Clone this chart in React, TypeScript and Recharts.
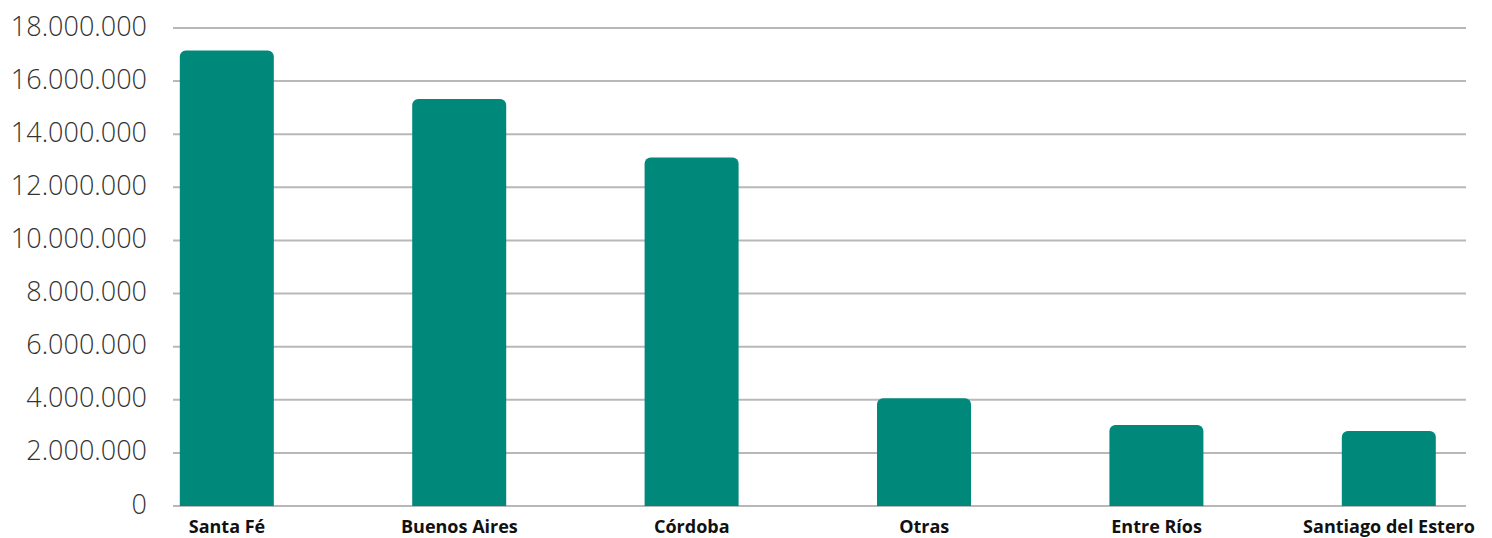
import React from "react";
import { BarChart, Bar, XAxis, YAxis, CartesianGrid } from "recharts";

// Provincias y valores
const provincias = [
  "Santa Fé",
  "Buenos Aires",
  "Córdoba",
  "Otras",
  "Entre Ríos",
  "Santiago del Estero",
];
const valores = [17150000, 15330000, 13120000, 4060000, 3050000, 2820000];
const yTicks = [
  0, 2000000, 4000000, 6000000, 8000000, 10000000, 12000000, 14000000,
  16000000, 18000000,
];

const data = provincias.map((name, i) => ({ idx: i, name, value: valores[i] }));

const fmt = (v: number) =>
  String(Math.round(v)).replace(/\B(?=(\d{3})+(?!\d))/g, ".");

const App: React.FC = () => {
  return (
    <div style={{ position: "absolute", left: 0, top: 0, background: "#fff" }}>
      <BarChart
        width={1492}
        height={538}
        data={data}
        margin={{ top: 28, right: 26, left: 0, bottom: 0 }}
      >
        <CartesianGrid vertical={false} stroke="#b8b8b8" strokeWidth={2} />
        <XAxis
          dataKey="idx"
          type="number"
          domain={[-0.2324, 5.3313]}
          ticks={[0, 1, 2, 3, 4, 5]}
          allowDataOverflow
          tickFormatter={(v: number) => provincias[v] ?? ""}
          axisLine={false}
          tickLine={false}
          tickMargin={8}
          interval={0}
          height={32}
          tick={{
            fontFamily: "'Open Sans', sans-serif",
            fontWeight: 700,
            fontSize: 18,
            fill: "#111",
          }}
        />
        <YAxis
          width={173}
          domain={[0, 18000000]}
          ticks={yTicks}
          tickFormatter={fmt}
          axisLine={false}
          tickLine={false}
          tickMargin={20}
          interval={0}
          tick={{
            fontFamily: "'Open Sans', sans-serif",
            fontWeight: 300,
            fontSize: 27,
            fill: "#333",
            dy: -2,
          }}
        />
        <Bar
          dataKey="value"
          fill="#00897B"
          barSize={94}
          radius={[6, 6, 0, 0]}
          isAnimationActive={false}
        />
      </BarChart>
    </div>
  );
};

export default App;
